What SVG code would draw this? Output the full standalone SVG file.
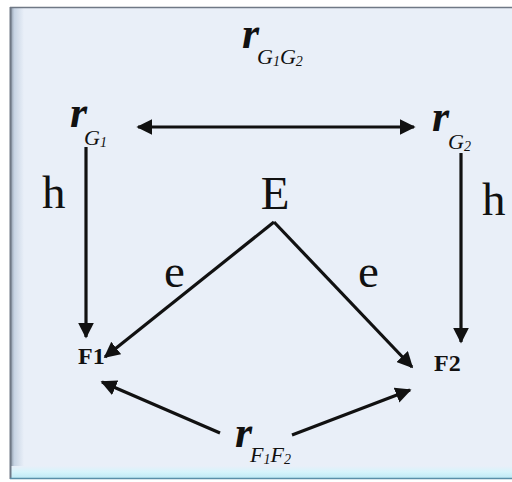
<svg xmlns="http://www.w3.org/2000/svg" width="512" height="482" viewBox="0 0 512 482">
<defs>
<linearGradient id="lb" x1="0" y1="0" x2="1" y2="0"><stop offset="0" stop-color="#7f8a99"/><stop offset="0.3" stop-color="#c6d3e3"/><stop offset="1" stop-color="#e9eff8"/></linearGradient>
<linearGradient id="bb" x1="0" y1="0" x2="0" y2="1"><stop offset="0" stop-color="#e9eff8"/><stop offset="0.5" stop-color="#d6f4fb"/><stop offset="1" stop-color="#bfeaf5"/></linearGradient>
<marker id="ah" viewBox="0 0 10 10" refX="9" refY="5" markerWidth="5" markerHeight="5" orient="auto-start-reverse" markerUnits="strokeWidth"><path d="M0,0 L10,5 L0,10 z" fill="#111"/></marker>
<style>
.ln{stroke:#111;stroke-width:3.2;fill:none}
.t{font-family:"Liberation Serif",serif;fill:#111}
.ri{font-style:italic;font-weight:bold;font-size:44px}
.sb{font-size:22px;font-style:italic}
.big{font-size:47px}
.f{font-size:24px;font-weight:bold}
</style>
</defs>
<rect x="0" y="0" width="512" height="482" fill="#ffffff"/>
<rect x="10" y="7" width="504" height="472" fill="#e9eff8"/>
<rect x="10" y="7" width="14" height="472" fill="url(#lb)"/>
<rect x="10" y="466" width="504" height="12" fill="url(#bb)"/>
<line x1="10" y1="7.5" x2="512" y2="7.5" stroke="#6f7885" stroke-width="1.5"/>
<line x1="10.5" y1="7" x2="10.5" y2="479" stroke="#6f7885" stroke-width="2"/>
<line x1="10" y1="478.5" x2="512" y2="478.5" stroke="#5a8fa8" stroke-width="1.5"/>

<g id="connectors">
<line class="ln" x1="138" y1="127" x2="414" y2="127" marker-start="url(#ah)" marker-end="url(#ah)"/>
<line class="ln" x1="86" y1="147" x2="86" y2="337" marker-end="url(#ah)"/>
<line class="ln" x1="461" y1="153" x2="461" y2="342" marker-end="url(#ah)"/>
<line class="ln" x1="274" y1="222" x2="105" y2="357" marker-end="url(#ah)"/>
<line class="ln" x1="274" y1="222" x2="412" y2="367" marker-end="url(#ah)"/>
<line class="ln" x1="220" y1="433" x2="102" y2="382" marker-end="url(#ah)"/>
<line class="ln" x1="292" y1="435" x2="410" y2="390" marker-end="url(#ah)"/>
</g>

<g id="rG1G2"><text class="t ri" x="242" y="48">r</text><text class="t sb" x="257" y="64">G<tspan font-size="14" dy="2">1</tspan><tspan dy="-2">G</tspan><tspan font-size="14" dy="2">2</tspan></text></g>
<g id="rG1"><text class="t ri" x="70" y="127">r</text><text class="t sb" x="84" y="145">G<tspan font-size="14" dy="2">1</tspan></text></g>
<g id="rG2"><text class="t ri" x="432" y="131">r</text><text class="t sb" x="448" y="149">G<tspan font-size="14" dy="2">2</tspan></text></g>
<g id="hL"><text class="t big" x="42" y="208">h</text></g>
<g id="hR"><text class="t big" x="482" y="215">h</text></g>
<g id="E"><text class="t big" x="275" y="209" text-anchor="middle">E</text></g>
<g id="eL"><text class="t big" x="164" y="287">e</text></g>
<g id="eR"><text class="t big" x="358" y="287">e</text></g>
<g id="F1"><text class="t f" x="78" y="364">F1</text></g>
<g id="F2"><text class="t f" x="434" y="371">F2</text></g>
<g id="rF1F2"><text class="t ri" x="235" y="447">r</text><text class="t sb" x="250" y="462">F<tspan font-size="14" dy="2">1</tspan><tspan dy="-2">F</tspan><tspan font-size="14" dy="2">2</tspan></text></g>
</svg>
